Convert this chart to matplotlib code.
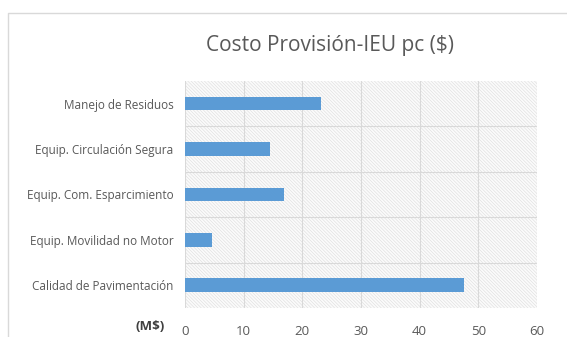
import matplotlib.pyplot as plt
import matplotlib.patches as mpatches
from matplotlib.lines import Line2D

plt.rcParams["font.family"] = ["Open Sans", "DejaVu Sans"]
plt.rcParams["hatch.linewidth"] = 0.4

categorias = ["Calidad de Pavimentación", "Equip. Movilidad no Motor",
              "Equip. Com. Esparcimiento", "Equip. Circulación Segura",
              "Manejo de Residuos"]
costos = [47.6, 4.6, 16.9, 14.5, 23.2]
xticks = [0, 10, 20, 30, 40, 50, 60]

gris = "#595959"
azul = "#5b9bd5"

fig = plt.figure(figsize=(5.67, 3.37), dpi=100)
ax = fig.add_axes([0.326, 0.086, 0.621, 0.674])

# fondo rayado del área de trazado
fondo = mpatches.Rectangle((0, 0), 1, 1, transform=ax.transAxes,
                           facecolor="#fbfbfb", edgecolor="#dcdcdc",
                           hatch="\\" * 10, linewidth=0, zorder=0)
ax.add_patch(fondo)

y = range(len(categorias))
ax.barh(y, costos, height=0.3, color=azul, zorder=3)

ax.set_xlim(0, 60)
ax.set_ylim(-0.5, len(categorias) - 0.5)
ax.set_xticks(xticks)
ax.set_yticks(list(y))
ax.set_yticklabels(categorias)
ax.set_yticks([i + 0.5 for i in range(len(categorias) - 1)], minor=True)

ax.grid(axis="x", color="#d9d9d9", linewidth=0.8, zorder=1)
ax.grid(axis="y", which="minor", color="#d9d9d9", linewidth=0.8, zorder=1)
ax.tick_params(axis="both", which="both", length=0, colors=gris)
ax.tick_params(axis="x", labelsize=9.5, pad=12)
ax.tick_params(axis="y", labelsize=8.5, pad=8)
for s in ax.spines.values():
    s.set_visible(False)

fig.text(0.265, 1 - 327 / 337, "(M$)", fontsize=9.5, color="#404040",
         fontweight="bold", ha="center", va="center")
fig.text(330 / 567, 1 - 46 / 337, "Costo Provisión-IEU pc ($)",
         fontsize=15, color=gris, ha="center", va="center")

# borde del área del gráfico
fig.add_artist(Line2D([8 / 567, 8 / 567, 1], [0, 1 - 13 / 337, 1 - 13 / 337],
                      color="#d9d9d9", linewidth=1))

fig.savefig("out.png", dpi=100)
